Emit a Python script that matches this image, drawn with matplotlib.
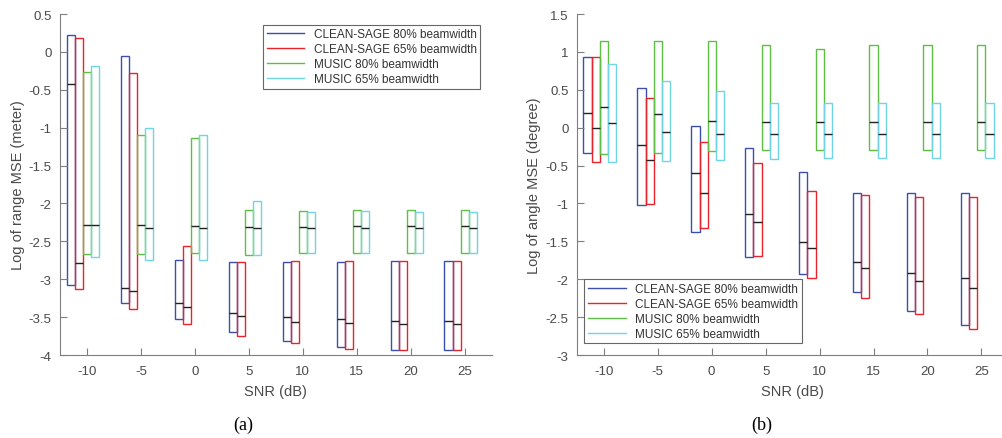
import numpy as np
import matplotlib.pyplot as plt
from matplotlib.lines import Line2D

snr = [-10, -5, 0, 5, 10, 15, 20, 25]
names = ['CLEAN-SAGE 80% beamwidth', 'CLEAN-SAGE 65% beamwidth',
         'MUSIC 80% beamwidth', 'MUSIC 65% beamwidth']
colors = ['#3c4fb0', '#e8232b', '#5fbf45', '#70d4e4']

#### (a) range: top, bottom, median per SNR
rng_sage80_top = [0.22, -0.06, -2.74, -2.77, -2.77, -2.77, -2.76, -2.76]
rng_sage80_bot = [-3.08, -3.31, -3.53, -3.70, -3.82, -3.89, -3.93, -3.94]
rng_sage80_med = [-0.43, -3.12, -3.31, -3.44, -3.50, -3.53, -3.55, -3.55]
rng_sage65_top = [0.19, -0.28, -2.56, -2.77, -2.76, -2.76, -2.76, -2.76]
rng_sage65_bot = [-3.13, -3.39, -3.59, -3.75, -3.84, -3.92, -3.94, -3.94]
rng_sage65_med = [-2.79, -3.16, -3.36, -3.48, -3.56, -3.58, -3.59, -3.59]
rng_music80_top = [-0.26, -1.10, -1.13, -2.08, -2.10, -2.09, -2.09, -2.09]
rng_music80_bot = [-2.67, -2.67, -2.66, -2.68, -2.66, -2.66, -2.66, -2.66]
rng_music80_med = [-2.28, -2.29, -2.30, -2.31, -2.31, -2.30, -2.30, -2.30]
rng_music65_top = [-0.18, -1.00, -1.09, -1.97, -2.11, -2.10, -2.11, -2.11]
rng_music65_bot = [-2.71, -2.74, -2.74, -2.68, -2.66, -2.66, -2.66, -2.66]
rng_music65_med = [-2.29, -2.32, -2.32, -2.32, -2.33, -2.33, -2.33, -2.33]

#### (b) angle
ang_sage80_top = [0.93, 0.53, 0.02, -0.27, -0.59, -0.86, -0.86, -0.86]
ang_sage80_bot = [-0.34, -1.02, -1.38, -1.70, -1.93, -2.17, -2.42, -2.61]
ang_sage80_med = [0.20, -0.23, -0.60, -1.14, -1.51, -1.77, -1.92, -1.98]
ang_sage65_top = [0.93, 0.39, -0.19, -0.47, -0.84, -0.89, -0.91, -0.91]
ang_sage65_bot = [-0.45, -1.01, -1.33, -1.69, -1.99, -2.25, -2.46, -2.66]
ang_sage65_med = [0.00, -0.43, -0.86, -1.24, -1.59, -1.85, -2.02, -2.12]
ang_music80_top = [1.15, 1.14, 1.15, 1.09, 1.04, 1.09, 1.09, 1.09]
ang_music80_bot = [-0.35, -0.34, -0.31, -0.30, -0.29, -0.29, -0.29, -0.29]
ang_music80_med = [0.27, 0.18, 0.09, 0.07, 0.07, 0.07, 0.07, 0.07]
ang_music65_top = [0.84, 0.61, 0.48, 0.33, 0.33, 0.32, 0.32, 0.32]
ang_music65_bot = [-0.45, -0.44, -0.42, -0.41, -0.40, -0.40, -0.40, -0.40]
ang_music65_med = [0.06, -0.06, -0.08, -0.08, -0.08, -0.08, -0.08, -0.08]

rng = [(rng_sage80_top, rng_sage80_bot, rng_sage80_med),
       (rng_sage65_top, rng_sage65_bot, rng_sage65_med),
       (rng_music80_top, rng_music80_bot, rng_music80_med),
       (rng_music65_top, rng_music65_bot, rng_music65_med)]
ang = [(ang_sage80_top, ang_sage80_bot, ang_sage80_med),
       (ang_sage65_top, ang_sage65_bot, ang_sage65_med),
       (ang_music80_top, ang_music80_bot, ang_music80_med),
       (ang_music65_top, ang_music65_bot, ang_music65_med)]

offsets = [-1.5, -0.75, 0, 0.75]
w = 0.75

plt.rcParams['font.family'] = ['Liberation Sans', 'DejaVu Sans']
fig = plt.figure(figsize=(10.02, 4.39), dpi=100)
axa = fig.add_axes([0.0599, 0.189, 0.4308, 0.7768])
axb = fig.add_axes([0.5756, 0.189, 0.4308, 0.7768])


def draw(ax, series, ylim, yticks, ylabel):
    x = np.array(snr, dtype=float)
    for k, (top, bot, med) in enumerate(series):
        top = np.array(top); bot = np.array(bot)
        xs = x + offsets[k]
        ax.bar(xs, top - bot, bottom=bot, width=w, fill=False,
               edgecolor=colors[k], linewidth=1.0)
        ax.hlines(med, xs - w / 2, xs + w / 2, color='#222222', linewidth=1.0)
    ax.set_xlim(-12.5, 27.5)
    ax.set_ylim(*ylim)
    ax.set_xticks(snr)
    ax.set_xticklabels([str(s) for s in snr])
    ax.set_yticks(yticks)
    ax.set_yticklabels(['%g' % t for t in yticks])
    for s in ['top', 'right']:
        ax.spines[s].set_visible(False)
    for s in ['left', 'bottom']:
        ax.spines[s].set_color('#7f7f7f')
    ax.tick_params(direction='in', length=5, color='#7f7f7f',
                   labelcolor='#4a4a4a', labelsize=9.5)
    ax.tick_params(axis='x', pad=7)
    ax.tick_params(axis='y', pad=6)
    ax.set_xlabel('SNR (dB)', fontsize=10.5, color='#4a4a4a', labelpad=5)
    ax.set_ylabel(ylabel, fontsize=10.5, color='#4a4a4a', labelpad=3)


draw(axa, rng, (-4, 0.5), [0.5, 0, -0.5, -1, -1.5, -2, -2.5, -3, -3.5, -4],
     'Log of range MSE (meter)')
draw(axb, ang, (-3, 1.5), [1.5, 1, 0.5, 0, -0.5, -1, -1.5, -2, -2.5, -3],
     'Log of angle MSE (degree)')

handles = [Line2D([0], [0], color=c, linewidth=1.0) for c in colors]
for ax, loc, anchor in [(axa, 'upper right', (0.974, 0.969)),
                        (axb, 'lower left', (0.0176, 0.034))]:
    leg = ax.legend(handles, names, loc=loc, bbox_to_anchor=anchor,
                    fontsize=8.5, handlelength=3.2, fancybox=False,
                    borderaxespad=0, labelspacing=0.25, borderpad=0.3)
    leg.get_frame().set_edgecolor('#404040')
    leg.get_frame().set_linewidth(0.8)
    for t in leg.get_texts():
        t.set_color('#333333')

fig.text(0.2425, 0.032, '(a)', fontsize=13, family='Liberation Serif',
         ha='center', va='center')
fig.text(0.760, 0.032, '(b)', fontsize=13, family='Liberation Serif',
         ha='center', va='center')

fig.savefig('out.png', dpi=100)
